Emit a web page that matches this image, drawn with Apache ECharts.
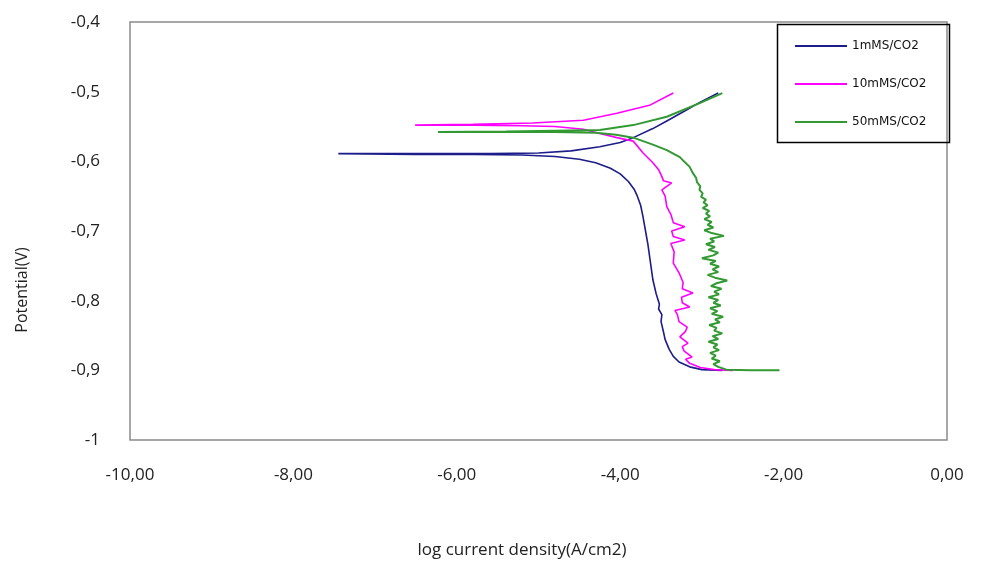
<!DOCTYPE html>
<html>
<head>
<meta charset="utf-8">
<script src="https://cdn.jsdelivr.net/npm/echarts@6/dist/echarts.min.js"></script>
<style>
  html, body { margin: 0; padding: 0; background: #fff; }
  #chart { width: 988px; height: 565px; }
</style>
</head>
<body>
<div id="chart"></div>
<script>
// Tafel curves, [log i, E] in scan order (bottom -> tip -> anodic end)
const names = ['1mMS/CO2', '10mMS/CO2', '50mMS/CO2'];
const colors = ['#1c1c8a', '#ff00ff', '#339a33'];

const curve1mM = [
    [-2.75, -0.900], [-3.00, -0.899], [-3.15, -0.895], [-3.28, -0.888], [-3.35, -0.880],
    [-3.40, -0.870], [-3.45, -0.856], [-3.47, -0.845], [-3.50, -0.830], [-3.49, -0.820],
    [-3.53, -0.812], [-3.52, -0.805], [-3.56, -0.790], [-3.60, -0.770], [-3.63, -0.745],
    [-3.66, -0.720], [-3.69, -0.700], [-3.72, -0.680], [-3.75, -0.663], [-3.79, -0.650],
    [-3.83, -0.640], [-3.90, -0.629], [-4.00, -0.618], [-4.12, -0.610], [-4.30, -0.602],
    [-4.50, -0.597], [-4.80, -0.593], [-5.20, -0.591], [-5.80, -0.590], [-6.50, -0.590],
    [-7.45, -0.589], [-6.50, -0.589], [-5.60, -0.589], [-5.00, -0.588], [-4.60, -0.585],
    [-4.25, -0.579], [-4.00, -0.573], [-3.84, -0.566], [-3.60, -0.553], [-3.43, -0.542],
    [-3.20, -0.527], [-3.02, -0.515], [-2.80, -0.502]
];

const curve10mM = [
    [-2.62, -0.900], [-2.85, -0.899], [-3.02, -0.896], [-3.15, -0.890], [-3.20, -0.884],
    [-3.12, -0.881], [-3.22, -0.872], [-3.24, -0.866], [-3.17, -0.861], [-3.27, -0.852],
    [-3.20, -0.844], [-3.18, -0.838], [-3.28, -0.830], [-3.30, -0.820], [-3.33, -0.814],
    [-3.15, -0.809], [-3.24, -0.803], [-3.25, -0.795], [-3.11, -0.789], [-3.24, -0.783],
    [-3.23, -0.774], [-3.28, -0.760], [-3.35, -0.746], [-3.34, -0.730], [-3.38, -0.718],
    [-3.21, -0.713], [-3.35, -0.708], [-3.37, -0.700], [-3.21, -0.694], [-3.35, -0.688],
    [-3.38, -0.676], [-3.43, -0.665], [-3.45, -0.650], [-3.49, -0.641], [-3.37, -0.631],
    [-3.47, -0.628], [-3.49, -0.622], [-3.53, -0.612], [-3.60, -0.602], [-3.72, -0.588],
    [-3.84, -0.571], [-4.04, -0.566], [-4.25, -0.560], [-4.45, -0.554], [-4.80, -0.550],
    [-5.20, -0.549], [-5.80, -0.548], [-6.51, -0.548], [-5.80, -0.547], [-5.07, -0.545],
    [-4.45, -0.541], [-4.04, -0.531], [-3.63, -0.519], [-3.35, -0.502]
];

const curve50mM = [
    [-2.05, -0.900], [-2.40, -0.900], [-2.70, -0.899], [-2.80, -0.895], [-2.86, -0.891],
    [-2.78, -0.887], [-2.88, -0.883], [-2.83, -0.879], [-2.90, -0.875], [-2.79, -0.871],
    [-2.86, -0.867], [-2.81, -0.863], [-2.92, -0.859], [-2.80, -0.855], [-2.87, -0.851],
    [-2.75, -0.847], [-2.85, -0.843], [-2.82, -0.839], [-2.91, -0.835], [-2.78, -0.831],
    [-2.84, -0.827], [-2.74, -0.823], [-2.88, -0.819], [-2.81, -0.815], [-2.90, -0.811],
    [-2.77, -0.807], [-2.86, -0.803], [-2.80, -0.799], [-2.92, -0.795], [-2.79, -0.791],
    [-2.85, -0.787], [-2.76, -0.783], [-2.89, -0.779], [-2.82, -0.775], [-2.69, -0.771],
    [-2.84, -0.767], [-2.93, -0.763], [-2.80, -0.759], [-2.87, -0.755], [-2.79, -0.751],
    [-2.90, -0.747], [-2.83, -0.743], [-3.00, -0.739], [-2.86, -0.735], [-2.80, -0.731],
    [-2.92, -0.727], [-2.84, -0.723], [-2.95, -0.719], [-2.85, -0.715], [-2.90, -0.711],
    [-2.73, -0.707], [-2.88, -0.703], [-2.97, -0.699], [-2.86, -0.695], [-2.93, -0.691],
    [-2.88, -0.687], [-2.97, -0.683], [-2.90, -0.679], [-2.95, -0.675], [-2.91, -0.671],
    [-2.99, -0.667], [-2.93, -0.663], [-2.98, -0.659], [-2.95, -0.655], [-3.01, -0.651],
    [-2.99, -0.646], [-3.03, -0.641], [-3.02, -0.636], [-3.06, -0.630], [-3.07, -0.624],
    [-3.11, -0.617], [-3.15, -0.608], [-3.22, -0.600], [-3.27, -0.594], [-3.43, -0.584],
    [-3.60, -0.576], [-3.84, -0.566], [-4.05, -0.562], [-4.30, -0.559], [-4.80, -0.558],
    [-5.40, -0.558], [-6.23, -0.558], [-5.40, -0.557], [-4.80, -0.556], [-4.25, -0.555],
    [-3.84, -0.548], [-3.43, -0.536], [-3.02, -0.516], [-2.75, -0.502]
];

const curves = [curve1mM, curve10mM, curve50mM];
const widths = [1.6, 1.6, 2];

const chart = echarts.init(document.getElementById('chart'));

const labelFont = { fontFamily: 'Open Sans', fontSize: 17, color: '#222' };

const option = {
    animation: false,
    backgroundColor: '#fff',
    grid: {
        left: 130, right: 41, top: 22, bottom: 125,
        show: true, borderColor: '#8a8a8a', borderWidth: 1.5
    },
    legend: {
        orient: 'vertical',
        left: 790, top: 35,
        icon: 'rect',
        itemWidth: 52, itemHeight: 2,
        itemGap: 26,
        textStyle: { fontFamily: 'DejaVu Sans', fontSize: 12, color: '#111' },
        data: names
    },
    xAxis: {
        type: 'value', min: -10, max: 0, interval: 2,
        axisLine: { show: false }, axisTick: { show: false }, splitLine: { show: false },
        axisLabel: Object.assign({
            margin: 27,
            formatter: v => v.toFixed(2).replace('.', ',')
        }, labelFont)
    },
    yAxis: {
        type: 'value', min: -1, max: -0.4, interval: 0.1,
        axisLine: { show: false }, axisTick: { show: false }, splitLine: { show: false },
        axisLabel: Object.assign({
            margin: 30,
            formatter: v => String(Math.round(v * 10) / 10).replace('.', ',')
        }, labelFont)
    },
    graphic: [
        {
            type: 'rect', left: 775, top: 22, z: 10, silent: true,
            shape: { width: 172, height: 118 },
            style: { fill: 'none', stroke: '#000', lineWidth: 1.5 }
        },
        {
            type: 'text', x: 22, y: 290, rotation: Math.PI / 2,
            style: {
                text: 'Potential(V)', fontFamily: 'Open Sans', fontSize: 16, fill: '#222',
                align: 'center', verticalAlign: 'middle'
            }
        },
        {
            type: 'text', x: 522, y: 550,
            style: {
                text: 'log current density(A/cm2)', fontFamily: 'Open Sans', fontSize: 17, fill: '#222',
                align: 'center', verticalAlign: 'middle'
            }
        }
    ],
    series: curves.map((d, i) => ({
        name: names[i],
        type: 'line',
        data: d,
        symbol: 'none',
        color: colors[i],
        lineStyle: { width: widths[i], color: colors[i] }
    }))
};

chart.setOption(option);
</script>
</body>
</html>
